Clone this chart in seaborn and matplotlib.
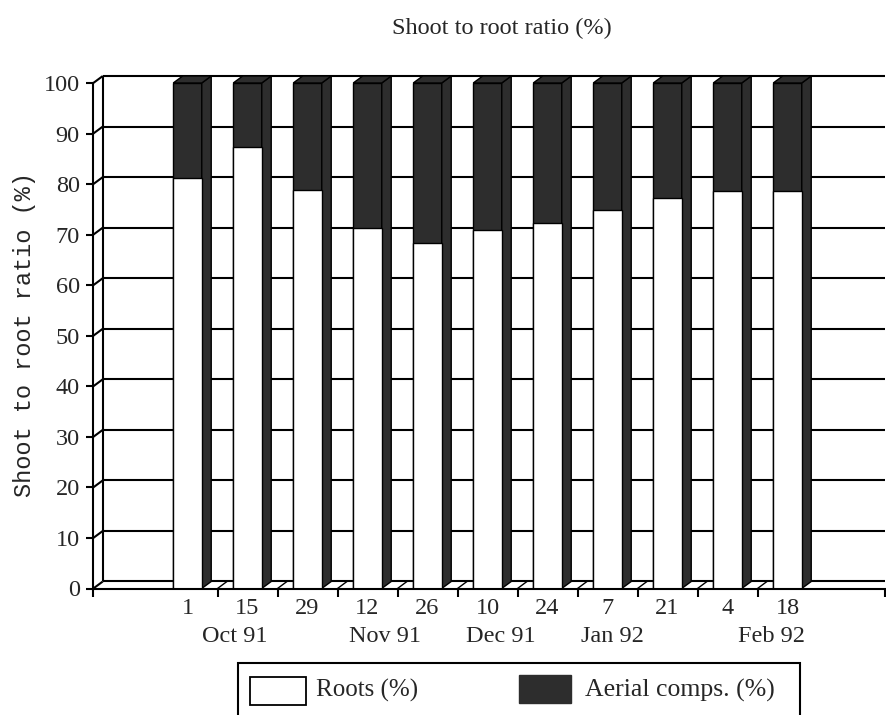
import matplotlib
matplotlib.use("Agg")
import matplotlib.pyplot as plt
from matplotlib.patches import Polygon, Rectangle
import pandas as pd
import seaborn as sns

# Sampling dates (day of month) and the share of dry mass in roots vs aerial parts
days = ["1", "15", "29", "12", "26", "10", "24", "7", "21", "4", "18"]
roots_pct = [81.3, 87.3, 78.8, 71.4, 68.4, 70.9, 72.4, 74.9, 77.2, 78.7, 78.6]
aerial_pct = [18.7, 12.7, 21.2, 28.6, 31.6, 29.1, 27.6, 25.1, 22.8, 21.3, 21.4]
months = ["Oct 91", "Nov 91", "Dec 91", "Jan 92", "Feb 92"]
y_ticks = [0, 10, 20, 30, 40, 50, 60, 70, 80, 90, 100]

# layout: month caption positions along the category axis
month_x = [0.78, 3.29, 5.22, 7.08, 9.73]

DARK = "#2d2d2d"
W, H = 886, 715

sns.set_theme(style="white")
plt.rcParams["font.family"] = ["Liberation Serif", "DejaVu Serif"]

df = pd.DataFrame({"day": days, "roots": roots_pct, "aerial": aerial_pct})
df["total"] = df["roots"] + df["aerial"]

fig = plt.figure(figsize=(W / 100, H / 100), dpi=100)
y0_px, top_px = 588.5, 588.5 - 102 * 5.055
ax = fig.add_axes([93.3 / W, (H - y0_px) / H, (885 - 93.3) / W, (y0_px - top_px) / H])
ax.set_facecolor("white")

sns.barplot(data=df, x="day", y="total", order=days, color=DARK, saturation=1,
            width=0.475, edgecolor="black", linewidth=1.0, errorbar=None,
            ax=ax, zorder=3)
n = len(days)
sns.barplot(data=df, x="day", y="roots", order=days, color="white", saturation=1,
            width=0.475, edgecolor="black", linewidth=1.0, errorbar=None,
            ax=ax, zorder=4)

x0, x1 = -1.57, 11.625
ax.set_xlim(x0, x1)
ax.set_ylim(0, 102)

# depth of the pseudo-3D box in data units
dx, dy = 0.158, 1.385
lw = 1.5

# back wall grid, floor and left wall
ax.hlines([v + dy for v in y_ticks], x0 + dx, x1, color="black", lw=lw, zorder=1)
ax.vlines(x0 + dx, dy, 100 + dy, color="black", lw=lw, zorder=1)
for v in y_ticks:
    ax.plot([x0, x0 + dx], [v, v + dy], color="black", lw=lw, zorder=1,
            solid_capstyle="butt")
for t in [i + 0.5 for i in range(n - 1)]:
    ax.plot([t, t + dx], [0, dy], color="black", lw=1.0, zorder=1)

# side and top faces of each stacked bar
for p in ax.patches[:n]:
    bx, bw, bh = p.get_x(), p.get_width(), p.get_height()
    side = Polygon([(bx + bw, 0), (bx + bw + dx, dy), (bx + bw + dx, bh + dy),
                    (bx + bw, bh)], closed=True, facecolor=DARK,
                   edgecolor="black", lw=1.0, zorder=3)
    top = Polygon([(bx, bh), (bx + dx, bh + dy), (bx + bw + dx, bh + dy),
                   (bx + bw, bh)], closed=True, facecolor=DARK,
                  edgecolor="black", lw=1.0, zorder=3)
    ax.add_patch(side)
    ax.add_patch(top)

for s in ["top", "right"]:
    ax.spines[s].set_visible(False)
for s in ["left", "bottom"]:
    ax.spines[s].set_color("black")
    ax.spines[s].set_linewidth(lw)
    ax.spines[s].set_zorder(5)
ax.spines["left"].set_bounds(0, 100)

ax.set_yticks(y_ticks)
ax.set_yticklabels([str(v) for v in y_ticks])
ax.tick_params(axis="y", which="major", direction="out", length=4.8, width=lw,
               color="black", pad=5, labelsize=17.5, left=True)

major_x = [x0] + [i + 0.5 for i in range(n - 1)] + [x1]
ax.set_xticks(major_x)
ax.set_xticklabels([""] * len(major_x))
ax.set_xticks(range(n), labels=days, minor=True)
ax.tick_params(axis="x", which="major", direction="out", length=6, width=lw,
               color="black", bottom=True)
ax.tick_params(axis="x", which="minor", length=0, pad=6.5, labelsize=17.5)
ax.set_xlabel("")
ax.set_ylabel("")

for label, mx in zip(months, month_x):
    ax.text(mx, -(637 - y0_px) / 5.055, label, ha="center", va="center",
            fontsize=17.5, clip_on=False)

fig.text(502 / W, 1 - 28 / H, "Shoot to root ratio (%)", ha="center",
         va="center", fontsize=17.5)
fig.text(25 / W, 1 - 335 / H, "Shoot to root ratio (%)", rotation=90,
         ha="center", va="center", fontsize=17,
         family=["Liberation Mono", "DejaVu Sans Mono"])

# legend box (continues past the lower edge)
def fr(x, y):
    return x / W, 1 - y / H

fig.add_artist(Rectangle(fr(238, 718), 562 / W, 55 / H, fill=False,
                         edgecolor="black", lw=lw, transform=fig.transFigure))
fig.add_artist(Rectangle(fr(250, 705), 56 / W, 28 / H, facecolor="white",
                         edgecolor="black", lw=1.3, transform=fig.transFigure))
fig.add_artist(Rectangle(fr(519, 703), 52 / W, 28 / H, facecolor=DARK,
                         edgecolor=DARK, lw=1.0, transform=fig.transFigure))
fig.text(*fr(316, 690), "Roots (%)", ha="left", va="center", fontsize=18)
fig.text(*fr(585, 690), "Aerial comps. (%)", ha="left", va="center",
         fontsize=18.5)

fig.savefig("out.png", dpi=100, facecolor="white")
